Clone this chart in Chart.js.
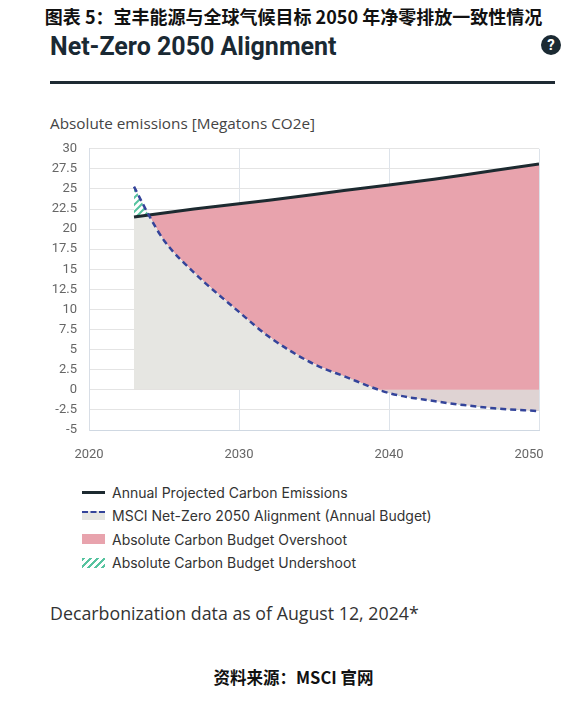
<!DOCTYPE html>
<html>
<head>
<meta charset="utf-8">
<script src="https://cdn.jsdelivr.net/npm/chart.js@4.4.1/dist/chart.umd.min.js"></script>
<style>
	body { margin: 0; background: #fff; }
	#page { position: relative; width: 587px; height: 706px; overflow: hidden; }
	.abs { position: absolute; white-space: nowrap; }
	#caption { left: 0; width: 587px; top: 3px; text-align: center; font: 700 18px "Noto Sans CJK SC", sans-serif; color: #111; }
	#title { left: 50px; top: 32px; font: 700 25px Roboto, sans-serif; color: #1a2933; }
	#help { left: 541px; top: 35px; width: 20px; height: 20px; border-radius: 50%; background: #1b2a33; color: #fff;
		font: 700 15px Roboto, sans-serif; text-align: center; line-height: 20px; }
	#rule { left: 50px; top: 81px; width: 505px; height: 3px; background: #1e2a33; }
	#yTitle { left: 50px; top: 113px; font: 15.3px "Open Sans", sans-serif; color: #444; }
	#chartBox { left: 0; top: 129px; width: 587px; height: 335px; }
	#legend { left: 82px; top: 481px; font: 14px Inter, sans-serif; color: #333; }
	.item { height: 23.3px; display: flex; align-items: center; }
	.sw { width: 23px; margin-right: 7px; position: relative; }
	#asof { left: 50px; top: 601px; font: 17.8px "Open Sans", sans-serif; color: #333; }
	#source { left: 0; width: 587px; top: 665px; text-align: center; font: 700 16.5px "Noto Sans CJK SC", sans-serif; color: #111; }
</style>
</head>
<body>
<div id="page">
	<div id="caption" class="abs">图表 5：宝丰能源与全球气候目标 2050 年净零排放一致性情况</div>
	<div id="title" class="abs">Net-Zero 2050 Alignment</div>
	<div id="help" class="abs">?</div>
	<div id="rule" class="abs"></div>
	<div id="yTitle" class="abs">Absolute emissions [Megatons CO2e]</div>
	<div id="chartBox" class="abs"><canvas id="canvasAlignment"></canvas></div>
	<div id="legend" class="abs"></div>
	<div id="asof" class="abs">Decarbonization data as of August 12, 2024*</div>
	<div id="source" class="abs">资料来源：MSCI 官网</div>
</div>
<script>
"use strict";

// values
var years = [2023, 2024, 2025, 2027, 2030, 2032, 2035, 2037, 2040, 2043, 2045, 2047, 2050];
var projectedEmissions = [21.5, 21.75, 22.0, 22.5, 23.15, 23.6, 24.3, 24.8, 25.5, 26.2, 26.75, 27.3, 28.1];
var annualBudget = [25.3, 21.7, 18.6, 14.6, 9.7, 6.6, 3.2, 1.7, -0.4, -1.4, -1.9, -2.3, -2.65];
var xTicks = [2020, 2030, 2040, 2050];
var legendLabels = [
	'Annual Projected Carbon Emissions',
	'MSCI Net-Zero 2050 Alignment (Annual Budget)',
	'Absolute Carbon Budget Overshoot',
	'Absolute Carbon Budget Undershoot'
];

var colors = {
	emissions: '#1d2a30',
	budget: '#34449a',
	overshoot: '#e8a3ad',
	budgetArea: '#e6e6e2',
	budgetNegative: '#dfd3d3',
	undershoot: '#56c39f'
};

function ToPoints(values) {
	return values.map(function (v, i) { return { x: years[i], y: v }; });
}

function HatchPattern() {
	var c = document.createElement('canvas');
	c.width = 7; c.height = 7;
	var g = c.getContext('2d');
	g.fillStyle = '#fff';
	g.fillRect(0, 0, 7, 7);
	g.strokeStyle = colors.undershoot;
	g.lineWidth = 2;
	g.beginPath();
	g.moveTo(-1, 8); g.lineTo(8, -1);
	g.moveTo(-1, 1); g.lineTo(1, -1);
	g.moveTo(6, 8); g.lineTo(8, 6);
	g.stroke();
	return g.createPattern(c, 'repeat');
}

var clear = 'rgba(0,0,0,0)';

const context = document.getElementById('canvasAlignment');
const myChart = new Chart(context, {
	type: 'line',
	data: {
		datasets: [{
			label: legendLabels[0],
			data: ToPoints(projectedEmissions),
			borderColor: colors.emissions,
			borderWidth: 3,
			pointRadius: 0,
			fill: { target: 1, above: colors.overshoot, below: clear },
			order: 3
		}, {
			label: legendLabels[1],
			data: ToPoints(annualBudget),
			borderColor: colors.budget,
			borderWidth: 2.5,
			borderDash: [6, 4],
			pointRadius: 0,
			cubicInterpolationMode: 'monotone',
			fill: { target: 'origin', above: colors.budgetArea, below: colors.budgetNegative },
			order: 2
		}, {
			label: legendLabels[3],
			data: ToPoints(projectedEmissions),
			borderWidth: 0,
			borderColor: clear,
			pointRadius: 0,
			fill: { target: 1, above: clear, below: HatchPattern() },
			order: 1
		}]
	},
	options: {
		responsive: true,
		maintainAspectRatio: false,
		animation: false,
		layout: { padding: { left: 39, right: 48, top: 0, bottom: 0 } },
		plugins: {
			legend: { display: false },
			tooltip: { enabled: false },
			filler: { drawTime: 'beforeDatasetsDraw' }
		},
		scales: {
			x: {
				type: 'linear',
				min: 2020,
				max: 2050,
				afterBuildTicks: function (scale) {
					scale.ticks = xTicks.map(function (v) { return { value: v }; });
				},
				afterFit: function (scale) { scale.height = 34; },
				ticks: {
					padding: 17,
					color: '#666',
					font: { family: 'Roboto', size: 13 },
					callback: function (v) {
						// last label sits a little left of its gridline in the reference
						return v === 2050 ? '2050\u2002\u2002\u2002' : String(v);
					}
				},
				grid: { color: '#dde3ea', drawTicks: false },
				border: { color: '#cfd8e2' }
			},
			y: {
				min: -5,
				max: 30,
				afterFit: function (scale) { scale.width = 50; },
				ticks: {
					stepSize: 2.5,
					padding: 12,
					color: '#666',
					font: { family: 'Roboto', size: 13 }
				},
				grid: { color: '#e4e4e4', drawTicks: false },
				border: { color: '#d8dee6' }
			}
		}
	}
});

// html legend
function BuildLegend() {
	var swatches = [
		'<div class="sw" style="height:3px;background:' + colors.emissions + '"></div>',
		'<div class="sw" style="height:9px;background:' + colors.budgetArea + '">' +
			'<div style="position:absolute;left:0;top:0;width:23px;border-top:2.5px dashed ' + colors.budget + '"></div></div>',
		'<div class="sw" style="height:10px;background:' + colors.overshoot + '"></div>',
		'<div class="sw" style="height:10px;background:repeating-linear-gradient(135deg,' + colors.undershoot +
			' 0 2.5px,#fff 2.5px 5px)"></div>'
	];
	var html = '';
	EachItem(legendLabels, function (i, label) {
		html += '<div class="item">' + swatches[i] + '<span>' + label + '</span></div>';
	});
	document.getElementById('legend').innerHTML = html;
}

function EachItem(list, fn) {
	for (var i = 0; i < list.length; i++) fn(i, list[i]);
}

BuildLegend();
</script>
</body>
</html>
